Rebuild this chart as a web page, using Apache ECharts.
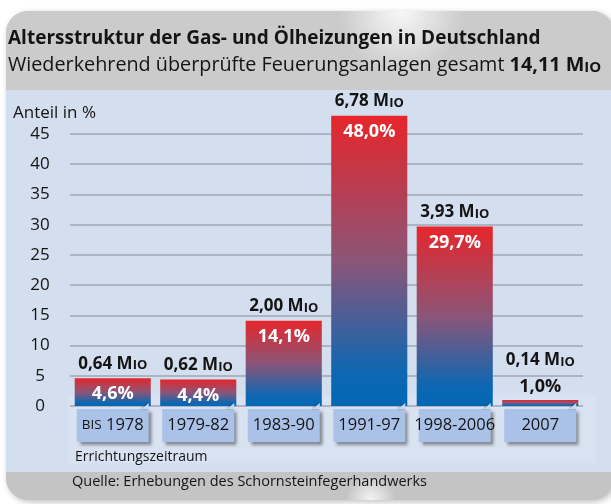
<!DOCTYPE html>
<html>
<head>
<meta charset="utf-8">
<script src="https://cdn.jsdelivr.net/npm/echarts@6/dist/echarts.min.js"></script>
<style>
html,body{margin:0;padding:0;background:#fff;overflow:hidden;}
#chart{width:611px;height:504px;}
</style>
</head>
<body>
<div id="chart"></div>
<script>
// Errichtungszeitraum
var categories = ['bis 1978', '1979-82', '1983-90', '1991-97', '1998-2006', '2007'];
// Anteil in %
var shareValues = [4.6, 4.4, 14.1, 48.0, 29.7, 1.0];
// Anzahl in Mio
var countValues = [0.64, 0.62, 2.00, 6.78, 3.93, 0.14];
var totalCount = 14.11;
var yTicks = [0, 5, 10, 15, 20, 25, 30, 35, 40, 45];

var FONT = 'Open Sans';
var INK = '#141414';

function de(v, d){ return v.toFixed(d).replace('.', ','); }

//Kapitaelchen-Stil fuer "Mio"
function richCaps(size, weight, lh){
	return {
		n: {fontFamily: FONT, fontSize: size, fontWeight: 'normal', color: INK, verticalAlign: 'bottom', lineHeight: lh},
		b: {fontFamily: FONT, fontSize: size, fontWeight: weight, color: INK, verticalAlign: 'bottom', lineHeight: lh},
		s: {fontFamily: FONT, fontSize: Math.round(size * 0.76), fontWeight: weight, color: INK, verticalAlign: 'bottom', lineHeight: lh - 2}
	};
}

var barGradient = new echarts.graphic.LinearGradient(0, 0, 0, 1, [
	{offset: 0, color: '#e6262b'},
	{offset: 0.5, color: '#8b5577'},
	{offset: 0.88, color: '#0f67b2'},
	{offset: 1, color: '#0068b4'}
]);

var barData = shareValues.map(function(v, i){
	var item = {value: v};
	if (v < 3) {
		//zu klein fuer Beschriftung im Balken
		item.label = {position: 'top', distance: 4, color: INK};
	}
	return item;
});
var countData = shareValues.map(function(v, i){
	var item = {value: v, count: countValues[i]};
	if (v < 3) item.label = {distance: 31};
	return item;
});

var background = [
	//Karte
	{type: 'rect', z: -10, shape: {x: 6, y: 11, width: 608, height: 489, r: 22},
		style: {fill: '#c9c9c9', shadowBlur: 6, shadowColor: 'rgba(0,0,0,0.25)', shadowOffsetX: 2, shadowOffsetY: 2}},
	{type: 'rect', z: -9, shape: {x: 6, y: 11, width: 608, height: 79, r: [22, 22, 0, 0]},
		style: {fill: new echarts.graphic.RadialGradient(0.65, 0, 0.8, [
			{offset: 0, color: '#f7f7f7'}, {offset: 1, color: '#cbcbcb'}])}},
	{type: 'rect', z: -9, shape: {x: 6, y: 90, width: 608, height: 382},
		style: {fill: '#d3deef'}},
	{type: 'rect', z: -9, shape: {x: 68, y: 395, width: 528, height: 68},
		style: {fill: '#d9e2f1'}},
	{type: 'rect', z: -9, shape: {x: 6, y: 472, width: 608, height: 28, r: [0, 0, 22, 22]},
		style: {fill: new echarts.graphic.RadialGradient(0.6, 1, 0.9, [
			{offset: 0, color: '#f4f4f4'}, {offset: 1, color: '#c4c4c4'}])}}
];

var chart = echarts.init(document.getElementById('chart'), null, {renderer: 'canvas'});
var option = {
	animation: false,
	backgroundColor: '#fff',
	textStyle: {fontFamily: FONT},
	graphic: background,
	title: [
		{left: 8, top: 29, padding: 0, text: 'Altersstruktur der Gas- und Ölheizungen in Deutschland',
			textStyle: {fontFamily: FONT, fontSize: 19, fontWeight: 'bold', color: INK}},
		{left: 8, top: 50, padding: 0,
			text: '{n|Wiederkehrend überprüfte Feuerungsanlagen gesamt }{b|' + de(totalCount, 2) + ' M}{s|IO}',
			textStyle: {fontFamily: FONT, fontSize: 19.8, fontWeight: 'normal', color: INK, rich: richCaps(19.8, 'bold', 25)}},
		{left: 13, top: 105, padding: 0, text: 'Anteil in %',
			textStyle: {fontFamily: FONT, fontSize: 17, fontWeight: 'normal', color: INK}},
		{left: 75, top: 450, padding: 0, text: 'Errichtungszeitraum',
			textStyle: {fontFamily: FONT, fontSize: 14, fontWeight: 'normal', color: INK}},
		{left: 72, top: 474, padding: 0, text: 'Quelle: Erhebungen des Schornsteinfegerhandwerks',
			textStyle: {fontFamily: FONT, fontSize: 14.5, fontWeight: 'normal', color: INK}}
	],
	grid: {left: 70, right: 28, top: 134, bottom: 98},
	xAxis: {
		type: 'category',
		data: categories,
		axisLine: {show: false},
		axisTick: {show: false},
		axisLabel: {
			interval: 0,
			margin: 3,
			width: 72,
			align: 'center',
			padding: [8, 0, 8, 0],
			backgroundColor: '#aac2e8',
			shadowColor: 'rgba(0,0,0,0.4)',
			shadowBlur: 3,
			shadowOffsetX: 3,
			shadowOffsetY: 3,
			fontFamily: FONT,
			fontSize: 16.5,
			color: INK,
			formatter: function(v){
				if (v.indexOf('bis ') === 0) return '{s|BIS} ' + v.slice(4);
				return v;
			},
			rich: {
				s: {fontFamily: FONT, fontSize: 13.5, color: INK}
			}
		}
	},
	yAxis: {
		type: 'value',
		min: yTicks[0],
		max: yTicks[yTicks.length - 1],
		interval: 5,
		axisLine: {show: false},
		axisTick: {show: false},
		axisLabel: {margin: 30, align: 'center', fontFamily: FONT, fontSize: 17, color: INK},
		splitLine: {lineStyle: {color: '#9ea6b4', width: 1.5}}
	},
	series: [
		{
			type: 'bar',
			data: barData,
			clip: false,
			barCategoryGap: '11%',
			itemStyle: {color: barGradient},
			label: {
				show: true,
				position: 'insideTop',
				distance: 7,
				fontFamily: FONT,
				fontSize: 18,
				fontWeight: 'bold',
				color: '#fff',
				formatter: function(p){ return de(p.value, 1) + '%'; }
			},
			z: 3
		},
		{
			type: 'scatter',
			data: countData,
			symbolSize: 0,
			clip: false,
			silent: true,
			itemStyle: {opacity: 1},
			label: {
				show: true,
				position: 'top',
				distance: 6,
				opacity: 1,
				fontFamily: FONT,
				fontSize: 17,
				fontWeight: 'bold',
				color: INK,
				formatter: function(p){ return '{b|' + de(p.data.count, 2) + ' M}{s|IO}'; },
				rich: richCaps(17, 'bold', 22)
			},
			z: 5
		}
	]
};
chart.setOption(option);

//umgeknickte Ecke oben rechts an den Kategorie-Kaertchen
var baseY = chart.convertToPixel({yAxisIndex: 0}, 0);
var folds = categories.map(function(c, i){
	var right = chart.convertToPixel({xAxisIndex: 0}, i) + 36;
	var top = baseY + 3;
	return {type: 'polygon', z: 10, shape: {points: [[right - 7, top], [right, top - 6], [right, top]]},
		style: {fill: '#c9d7ef', shadowBlur: 2, shadowColor: 'rgba(0,0,0,0.3)', shadowOffsetX: -1}};
});
chart.setOption({graphic: background.concat(folds)});
</script>
</body>
</html>
